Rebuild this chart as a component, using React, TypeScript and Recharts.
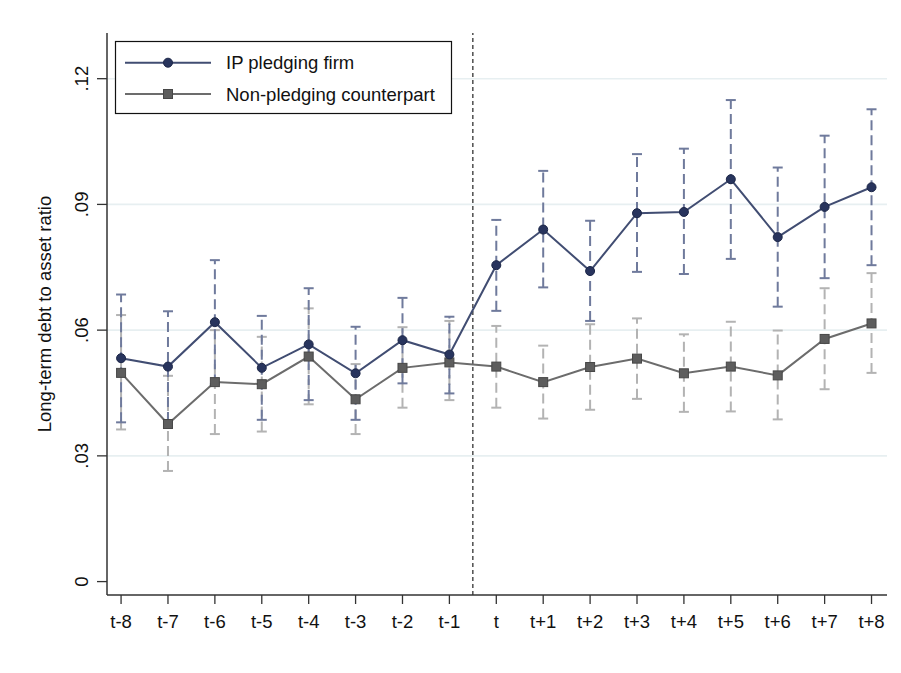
import { ComposedChart, Line, XAxis, YAxis, ReferenceLine, ErrorBar, Label } from "recharts"

const CATEGORIES = ["t-8", "t-7", "t-6", "t-5", "t-4", "t-3", "t-2", "t-1", "t", "t+1", "t+2", "t+3", "t+4", "t+5", "t+6", "t+7", "t+8"]
const SERIES_NAMES = ["IP pledging firm", "Non-pledging counterpart"]

// IP pledging firm: point estimate and CI bounds
const IP_MEAN = [0.0533, 0.0513, 0.0619, 0.051, 0.0566, 0.0497, 0.0576, 0.0542, 0.0755, 0.084, 0.0741, 0.0879, 0.0882, 0.096, 0.0822, 0.0894, 0.0941]
const IP_HI = [0.0685, 0.0645, 0.0767, 0.0634, 0.07, 0.0608, 0.0677, 0.0632, 0.0863, 0.098, 0.0861, 0.102, 0.1033, 0.1149, 0.0988, 0.1064, 0.1127]
const IP_LO = [0.038, 0.0381, 0.0471, 0.0386, 0.0433, 0.0386, 0.0473, 0.0449, 0.0646, 0.0702, 0.0622, 0.0739, 0.0734, 0.077, 0.0656, 0.0724, 0.0755]

// Non-pledging counterpart
const NP_MEAN = [0.0498, 0.0376, 0.0476, 0.0471, 0.0537, 0.0435, 0.051, 0.0523, 0.0513, 0.0476, 0.0512, 0.0532, 0.0497, 0.0513, 0.0492, 0.0579, 0.0616]
const NP_HI = [0.0636, 0.0491, 0.06, 0.0584, 0.0652, 0.0519, 0.0607, 0.0622, 0.061, 0.0563, 0.0614, 0.0628, 0.059, 0.062, 0.0599, 0.07, 0.0736]
const NP_LO = [0.0363, 0.0264, 0.0352, 0.0358, 0.0423, 0.0352, 0.0415, 0.0433, 0.0415, 0.0389, 0.041, 0.0436, 0.0405, 0.0406, 0.0387, 0.0459, 0.0498]

const Y_TICKS = [0, 0.03, 0.06, 0.09, 0.12]
const GRID_VALUES = [0.03, 0.06, 0.09, 0.12]
const EVENT_LINE = -0.5
const Y_TITLE = "Long-term debt to asset ratio"

const X_TICKS = CATEGORIES.map((_, i) => i - 8)

const data = CATEGORIES.map((c, i) => ({
  x: i - 8,
  label: c,
  ip: IP_MEAN[i],
  ipErr: [IP_MEAN[i] - IP_LO[i], IP_HI[i] - IP_MEAN[i]],
  np: NP_MEAN[i],
  npErr: [NP_MEAN[i] - NP_LO[i], NP_HI[i] - NP_MEAN[i]],
}))

const FONT = "'Liberation Sans', Arial, sans-serif"
const FS = 18.5

const IP_LINE = "#414d72"
const IP_DOT = "#28345d"
const IP_CI = "#6f7a9c"
const NP_LINE = "#6c6c6c"
const NP_DOT = "#5d5d5d"
const NP_CI = "#b3b3b3"

const fmtY = (v: number) => (v === 0 ? "0" : v.toFixed(2).replace(/^0/, ""))

const YTick = (props: any) => {
  const { x, y, payload } = props
  return (
    <text
      x={x}
      y={y}
      transform={`rotate(-90, ${x}, ${y})`}
      textAnchor="middle"
      fontFamily={FONT}
      fontSize={FS}
      fill="#111"
    >
      {fmtY(payload.value)}
    </text>
  )
}

const SquareDot = (props: any) => {
  const { cx, cy, index } = props
  if (cx == null || cy == null) return null
  return <rect key={`sq-${index}`} x={cx - 4.5} y={cy - 4.5} width={9} height={9} fill={NP_DOT} stroke="#474747" strokeWidth={1} />
}

function LegendBox() {
  return (
    <svg width={901} height={673} style={{ position: "absolute", left: 0, top: 0, pointerEvents: "none" }}>
      <rect x={115.5} y={41.5} width={336} height={72} fill="#fff" stroke="#111" strokeWidth={1.2} />
      <line x1={125} y1={62.7} x2={211} y2={62.7} stroke={IP_LINE} strokeWidth={2} />
      <circle cx={168} cy={62.7} r={4.5} fill={IP_DOT} stroke="#1d2748" strokeWidth={1} />
      <text x={226} y={69.3} fontFamily={FONT} fontSize={FS} fill="#111">
        {SERIES_NAMES[0]}
      </text>
      <line x1={125} y1={94} x2={211} y2={94} stroke={NP_LINE} strokeWidth={2} />
      <rect x={163.5} y={89.5} width={9} height={9} fill={NP_DOT} stroke="#474747" strokeWidth={1} />
      <text x={226} y={100.7} fontFamily={FONT} fontSize={FS} fill="#111">
        {SERIES_NAMES[1]}
      </text>
    </svg>
  )
}

export default function App() {
  return (
    <div style={{ position: "absolute", left: 0, top: 0, width: 901, height: 673, background: "#fff" }}>
      <ComposedChart width={901} height={673} data={data} margin={{ top: 33, right: 14, bottom: 0, left: 0 }}>
        {GRID_VALUES.map((v) => (
          <ReferenceLine key={v} y={v} stroke="#e7eff1" strokeWidth={1.6} />
        ))}
        <XAxis
          type="number"
          dataKey="x"
          domain={[-8.3, 8.33]}
          allowDataOverflow
          ticks={X_TICKS}
          interval={0}
          tickFormatter={(v: number) => CATEGORIES[v + 8]}
          height={78}
          tickSize={9}
          tickMargin={11}
          axisLine={{ stroke: "#333", strokeWidth: 1.5 }}
          tickLine={{ stroke: "#333", strokeWidth: 1.3 }}
          tick={{ fontFamily: FONT, fontSize: FS, fill: "#111" }}
        />
        <YAxis
          type="number"
          domain={[-0.0032, 0.1309]}
          allowDataOverflow
          ticks={Y_TICKS}
          interval={0}
          width={107}
          tickSize={10}
          tickMargin={9}
          axisLine={{ stroke: "#333", strokeWidth: 1.5 }}
          tickLine={{ stroke: "#333", strokeWidth: 1.3 }}
          tick={<YTick />}
        >
          <Label
            content={(p: any) => {
              const vb = p.viewBox || {}
              const cy = (vb.y ?? 33) + (vb.height ?? 562) / 2
              return (
                <text
                  x={50.7}
                  y={cy}
                  transform={`rotate(-90, 50.7, ${cy})`}
                  textAnchor="middle"
                  fontFamily={FONT}
                  fontSize={FS}
                  fill="#111"
                >
                  {Y_TITLE}
                </text>
              )
            }}
          />
        </YAxis>
        <ReferenceLine x={EVENT_LINE} stroke="#333" strokeWidth={1.3} strokeDasharray="4 3" />
        <Line
          dataKey="np"
          name={SERIES_NAMES[1]}
          stroke={NP_LINE}
          strokeWidth={2}
          dot={<SquareDot />}
          activeDot={false}
          isAnimationActive={false}
        >
          <ErrorBar dataKey="npErr" direction="y" width={5} stroke={NP_CI} strokeWidth={2} strokeDasharray="10 5" />
        </Line>
        <Line
          dataKey="ip"
          name={SERIES_NAMES[0]}
          stroke={IP_LINE}
          strokeWidth={2}
          dot={{ r: 4.5, fill: IP_DOT, stroke: "#1d2748", strokeWidth: 1 }}
          activeDot={false}
          isAnimationActive={false}
        >
          <ErrorBar dataKey="ipErr" direction="y" width={5} stroke={IP_CI} strokeWidth={2} strokeDasharray="10 5" />
        </Line>
      </ComposedChart>
      <LegendBox />
    </div>
  )
}
